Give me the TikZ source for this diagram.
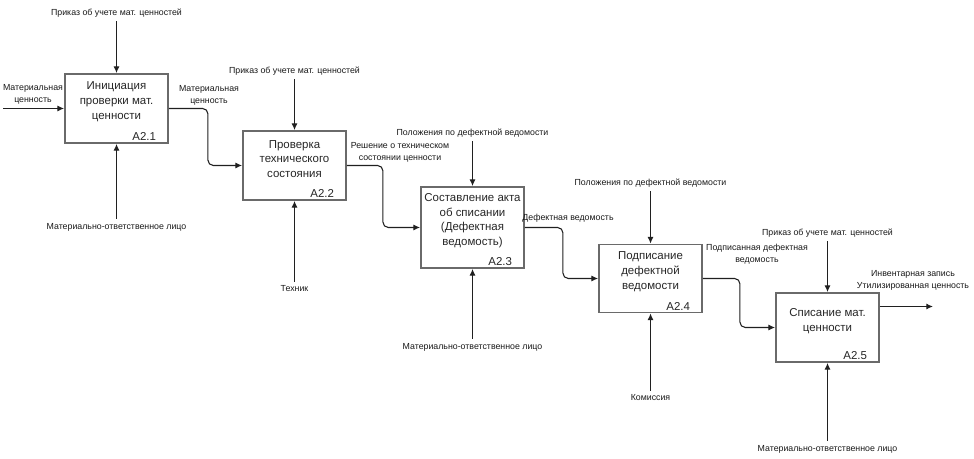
\documentclass[tikz,border=0pt]{standalone}
\usepackage{fontspec}
\setmainfont{Liberation Sans}
\usetikzlibrary{arrows.meta}
\definecolor{boxcol}{HTML}{6A6A6A}
\definecolor{arrcol}{HTML}{202020}

\begin{document}
\begin{tikzpicture}[x=0.75pt, y=-0.75pt]
    \tikzstyle{fbox} += [draw=boxcol, line width=1.4pt, rectangle, minimum width=77.25pt, inner sep=0pt];
    \tikzstyle{ftxt} += [align=center, text=black!85, font=\fontsize{8.6}{11}\selectfont];
    \tikzstyle{fnum} += [anchor=south east, text=black!85, font=\fontsize{8.6}{11}\selectfont, inner sep=2pt];
    \tikzstyle{lbl} += [align=center, text=black!90, font=\fontsize{6.6}{9}\selectfont, inner sep=1pt];
    \tikzstyle{arr} += [draw=arrcol, line width=0.8pt, -{Latex[length=5pt, width=4.5pt]}];
    \useasboundingbox (0,0) rectangle (974,459);

    \node (b1) at (116.5, 108.5) [fbox, minimum height=51.75pt]{};
    \node (b2) at (294.5, 165.5) [fbox, minimum height=51.75pt]{};
    \node (b3) at (472.5, 227.5) [fbox, minimum height=60.75pt]{};
    \node (b4) at (650.5, 278.5) [fbox, minimum height=51pt]{};
    \node (b5) at (827.5, 327.5) [fbox, minimum height=51.75pt]{};

    \node (t1) at ([yshift=5pt]b1.center) [ftxt]{Инициация\\проверки мат.\\ценности};
    \node (t2) at ([yshift=5pt]b2.center) [ftxt]{Проверка\\технического\\состояния};
    \node (t3) at ([yshift=5pt]b3.center) [ftxt]{Составление акта\\об списании\\(Дефектная\\ведомость)};
    \node (t4) at ([yshift=5pt]b4.center) [ftxt]{Подписание\\дефектной\\ведомости};
    \node (t5) at ([yshift=5pt]b5.center) [ftxt]{Списание мат.\\ценности};

    \node (n1) at ([xshift=-7.5pt]b1.south east) [fnum]{A2.1};
    \node (n2) at ([xshift=-7.5pt]b2.south east) [fnum]{A2.2};
    \node (n3) at ([xshift=-7.5pt]b3.south east) [fnum]{A2.3};
    \node (n4) at ([xshift=-7.5pt]b4.south east) [fnum]{A2.4};
    \node (n5) at ([xshift=-7.5pt]b5.south east) [fnum]{A2.5};

    \node (c1) at (116.5,  13) [lbl]{Приказ об учете мат. ценностей};
    \node (c2) at (294.5,  71) [lbl]{Приказ об учете мат. ценностей};
    \node (c3) at (472.5, 133) [lbl]{Положения по дефектной ведомости};
    \node (c4) at (650.5, 183) [lbl]{Положения по дефектной ведомости};
    \node (c5) at (827.5, 233) [lbl]{Приказ об учете мат. ценностей};

    \node (m1) at (116.5, 227) [lbl]{Материально-ответственное лицо};
    \node (m2) at (294.5, 289) [lbl]{Техник};
    \node (m3) at (472.5, 347) [lbl]{Материально-ответственное лицо};
    \node (m4) at (650.5, 398) [lbl]{Комиссия};
    \node (m5) at (827.5, 449) [lbl]{Материально-ответственное лицо};

    \node (i1) at ( 33,  94) [lbl]{Материальная\\ценность};
    \node (o1) at (209,  95) [lbl]{Материальная\\ценность};
    \node (o2) at (400, 152) [lbl]{Решение о техническом\\состоянии ценности};
    \node (o3) at (568, 218) [lbl]{Дефектная ведомость};
    \node (o4) at (757, 254) [lbl]{Подписанная дефектная\\ведомость};
    \node (o5) at (913, 280) [lbl]{Инвентарная запись\\Утилизированная ценность};

    \coordinate (in1)  at (3, 108.5);
    \coordinate (out5) at (933, 306.5);

    \begin{scope}[arr]
      \draw[shorten <=2pt] (c1) -- (b1);
      \draw[shorten <=2pt] (c2) -- (b2);
      \draw[shorten <=2pt] (c3) -- (b3);
      \draw[shorten <=2pt] (c4) -- (b4);
      \draw[shorten <=2pt] (c5) -- (b5);
      \draw[shorten <=2pt] (m1) -- (b1);
      \draw[shorten <=2pt] (m2) -- (b2);
      \draw[shorten <=2pt] (m3) -- (b3);
      \draw[shorten <=2pt] (m4) -- (b4);
      \draw[shorten <=2pt] (m5) -- (b5);
      \draw (in1) -- (b1);
      \draw[rounded corners=4pt] (b1.east) -- ++(39,0) |- (b2.west);
      \draw[rounded corners=4pt] (b2.east) -- ++(36,0) |- (b3.west);
      \draw[rounded corners=4pt] (b3.east) -- ++(38,0) |- (b4.west);
      \draw[rounded corners=4pt] (b4.east) -- ++(37,0) |- (b5.west);
      \draw (b5.east |- out5) -- (out5);
    \end{scope}
\end{tikzpicture}
\end{document}
